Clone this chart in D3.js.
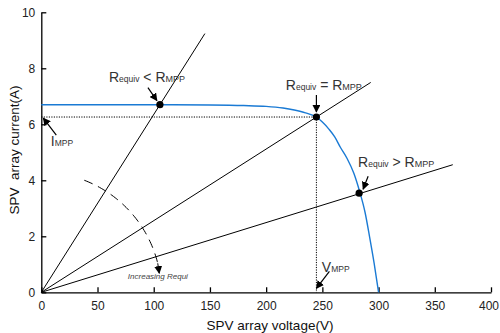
<!DOCTYPE html>
<html><head><meta charset="utf-8">
<script src="https://cdn.jsdelivr.net/npm/d3@7"></script>
<style>body{margin:0;background:#fff}svg{display:block}text{font-family:"Liberation Sans",Arial,sans-serif}</style>
</head><body><svg id="c" width="500" height="333"></svg>
<script>
// ---- data ----
const curveV = [0, 50, 100, 150, 180, 200, 215, 225, 235, 245, 250, 256, 261, 266, 272, 278, 283, 288, 292, 296, 300];
const curveI = [6.70, 6.70, 6.70, 6.69, 6.67, 6.64, 6.58, 6.51, 6.41, 6.25, 6.08, 5.82, 5.55, 5.18, 4.78, 4.25, 3.62, 2.85, 1.98, 1.05, 0];
const loadSlopes = [0.0635, 0.02558, 0.01245];     // I/V of the three load lines
const loadEndV = [145.5, 293, 366];                 // where each load line ends
const opV = [105.5, 244.7, 282.7];                  // operating points
const opI = [6.70, 6.26, 3.54];
const mppV = 244.7, mppI = 6.26;
const xTicks = [0, 50, 100, 150, 200, 250, 300, 350, 400];
const yTicks = [0, 2, 4, 6, 8, 10];
const xLabel = "SPV array voltage(V)";
const yLabel = "SPV\u00a0\u00a0array current(A)";
const labels = [
  {v: 60.2, i: 7.51, r1: "R", s1: "equiv", op: " < ", r2: "R", s2: "MPP"},
  {v: 217.5, i: 7.22, r1: "R", s1: "equiv", op: " = ", r2: "R", s2: "MPP"},
  {v: 281.8, i: 4.49, r1: "R", s1: "equiv", op: " > ", r2: "R", s2: "MPP"}
];

const svg = d3.select("#c");
const x = d3.scaleLinear().domain([0, 400]).range([41.3, 491]);
const y = d3.scaleLinear().domain([0, 10]).range([292.3, 12.3]);

svg.append("defs").append("marker").attr("id", "ah")
  .attr("viewBox", "0 0 10 10").attr("refX", 9).attr("refY", 5)
  .attr("markerWidth", 8).attr("markerHeight", 8).attr("markerUnits", "userSpaceOnUse")
  .attr("orient", "auto").append("path").attr("d", "M0,0L10,5L0,10z").attr("fill", "#000");

// axes
const xa = svg.append("g").attr("transform", `translate(0,${y(0)})`)
  .call(d3.axisBottom(x).tickValues(xTicks).tickSizeInner(-5).tickSizeOuter(0).tickPadding(9));
const ya = svg.append("g").attr("transform", `translate(${x(0)},0)`)
  .call(d3.axisLeft(y).tickValues(yTicks).tickSizeInner(-5).tickSizeOuter(0).tickPadding(6));
[xa, ya].forEach(a => {
  a.select(".domain").attr("stroke", "#000").attr("stroke-width", 1.3);
  a.selectAll(".tick line").attr("stroke", "#000").attr("stroke-width", 1.3);
  a.selectAll(".tick text").attr("font-size", 12).attr("fill", "#222")
    .attr("font-family", "'Liberation Sans',Arial,sans-serif");
});
xa.selectAll(".tick text").filter(d => d === 400).attr("dx", -2.5);
svg.append("text").attr("x", 270).attr("y", 330).attr("text-anchor", "middle")
  .attr("font-size", 13.5).attr("fill", "#111").text(xLabel);
svg.append("text").attr("transform", `translate(19,150) rotate(-90)`).attr("text-anchor", "middle")
  .attr("font-size", 13.5).attr("fill", "#111").text(yLabel);

// dotted MPP guides
svg.append("path").attr("d", d3.line()([[x(0), y(mppI)], [x(mppV), y(mppI)], [x(mppV), y(0)]]))
  .attr("fill", "none").attr("stroke", "#000").attr("stroke-width", 1).attr("stroke-dasharray", "1.2,1.3");

// load lines
loadSlopes.forEach((s, k) => {
  svg.append("line").attr("x1", x(0)).attr("y1", y(0))
    .attr("x2", x(loadEndV[k])).attr("y2", y(s * loadEndV[k]))
    .attr("stroke", "#000").attr("stroke-width", 1);
});

// I-V curve
const pts = curveV.map((v, k) => [v, curveI[k]]);
svg.append("path").datum(pts)
  .attr("d", d3.line().x(d => x(d[0])).y(d => y(d[1])).curve(d3.curveMonotoneX))
  .attr("fill", "none").attr("stroke", "#1a7ad4").attr("stroke-width", 1.4);

// operating points
opV.forEach((v, k) => {
  svg.append("circle").attr("cx", x(v)).attr("cy", y(opI[k])).attr("r", 3.6).attr("fill", "#000");
});

// labels
labels.forEach(l => {
  const t = svg.append("text").attr("x", x(l.v)).attr("y", y(l.i)).attr("fill", "#333").attr("font-size", 14);
  t.append("tspan").text(l.r1);
  t.append("tspan").attr("font-size", 8.5).text(l.s1);
  t.append("tspan").text(l.op);
  t.append("tspan").text(l.r2);
  t.append("tspan").attr("font-size", 9).text(l.s2);
});
function sub(v, i, big, small) {
  const t = svg.append("text").attr("x", x(v)).attr("y", y(i)).attr("fill", "#333").attr("font-size", 14);
  t.append("tspan").text(big);
  t.append("tspan").attr("font-size", 8.5).text(small);
}
sub(8.4, 5.21, "I", "MPP");
sub(249.5, 0.73, "V", "MPP");
svg.append("text").attr("x", x(77)).attr("y", y(0.49)).attr("fill", "#444")
  .attr("font-size", 8).attr("font-style", "italic").text("Increasing Requi");

// arrows (offsets in px from target)
const arrows = [
  {v: opV[0], i: opI[0], s: [-12, -17], e: [-3, -4]},
  {v: opV[1], i: opI[1], s: [0, -22], e: [0, -5]},
  {v: opV[2], i: opI[2], s: [9, -17], e: [4, -4]},
  {v: 0, i: mppI, s: [15, 18], e: [2, 1]},
  {v: mppV, i: 0, s: [13, -21], e: [0, -4]}
];
arrows.forEach(a => {
  svg.append("line").attr("x1", x(a.v) + a.s[0]).attr("y1", y(a.i) + a.s[1])
    .attr("x2", x(a.v) + a.e[0]).attr("y2", y(a.i) + a.e[1])
    .attr("stroke", "#000").attr("stroke-width", 1.2).attr("marker-end", "url(#ah)");
});

// dashed arc indicating increasing R
const cx = x(0), cy = y(0), R = 120;
const angs = d3.range(69, 13.9, -1).map(d => d * Math.PI / 180);
const arcPts = angs.map(a => [cx + R * Math.cos(a), cy - R * Math.sin(a)]);
svg.append("path").attr("d", d3.line()(arcPts)).attr("fill", "none")
  .attr("stroke", "#000").attr("stroke-width", 1).attr("stroke-dasharray", "9,6");
const last = arcPts[arcPts.length - 1];
svg.append("line").attr("x1", last[0]).attr("y1", last[1])
  .attr("x2", last[0] + 1.5).attr("y2", last[1] + 10)
  .attr("stroke", "#000").attr("stroke-width", 1).attr("marker-end", "url(#ah)");
</script></body></html>
